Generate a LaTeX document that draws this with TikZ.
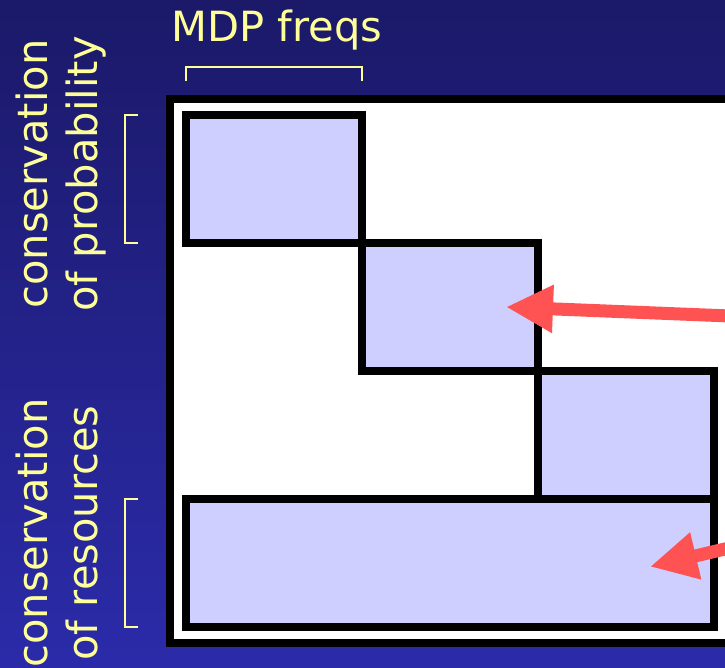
\documentclass[tikz,border=0pt]{standalone}
\usepackage{fontspec}
\setmainfont{DejaVu Sans}
\usetikzlibrary{arrows.meta}
\definecolor{bgtop}{RGB}{27,25,104}
\definecolor{bgbot}{RGB}{43,43,170}
\definecolor{lav}{RGB}{207,207,255}
\definecolor{note}{RGB}{255,255,153}
\definecolor{pointer}{RGB}{255,82,82}
\tikzset{
  blk/.style={draw=black, fill=lav, line width=8pt, inner sep=0pt, outer sep=0pt,
              minimum width=176pt, minimum height=128pt},
  lbl/.style={text=note, font=\fontsize{41.6}{50}\selectfont, inner sep=0pt},
  side/.style={lbl, rotate=90, anchor=base},
  brace/.style={draw=note, line width=1.5pt},
  ptr/.style={draw=pointer, line width=13pt, -{Triangle[length=47pt,width=45pt]}}
}
\begin{document}
\begin{tikzpicture}[x=1pt, y=-1pt]
  \useasboundingbox (0,0) rectangle (725,668);
  \clip (0,0) rectangle (725,668);
  % background
  \shade[top color=bgtop, bottom color=bgbot] (0,0) rectangle (725,668);

  % outer frame of the matrix
  \draw[line width=8pt, fill=white] (170,99) rectangle (770,643);

  % blocks of the constraint matrix
  \node[blk] (b1) at (274,179) {};
  \node[blk] (b2) at (450,307) {};
  \node[blk] (b3) at (626,435) {};
  \node[blk, minimum width=528pt] (b4) at (450,563) {};

  % column label and bracket
  \node[lbl, anchor=base] (mdp) at (277,42) {MDP freqs};
  \draw[brace] (186,81) -- (186,67) -- (362,67) -- (362,81);

  % row labels and brackets
  \node[side] (cp1) at (47,174) {conservation};
  \node[side] (cp2) at (97,174) {of probability};
  \draw[brace] (138,115) -- (125,115) -- (125,243) -- (138,243);

  \node[side] (cr1) at (47,533) {conservation};
  \node[side] (cr2) at (97,533) {of resources};
  \draw[brace] (138,499) -- (125,499) -- (125,627) -- (138,627);

  % pointers
  \coordinate (s1) at (770,317.6);
  \coordinate (t1) at (506,307);
  \coordinate (s2) at (770,538.3);
  \coordinate (t2) at (650,566.7);
  \draw[ptr] (s1) -- (t1);
  \draw[ptr] (s2) -- (t2);
\end{tikzpicture}
\end{document}
